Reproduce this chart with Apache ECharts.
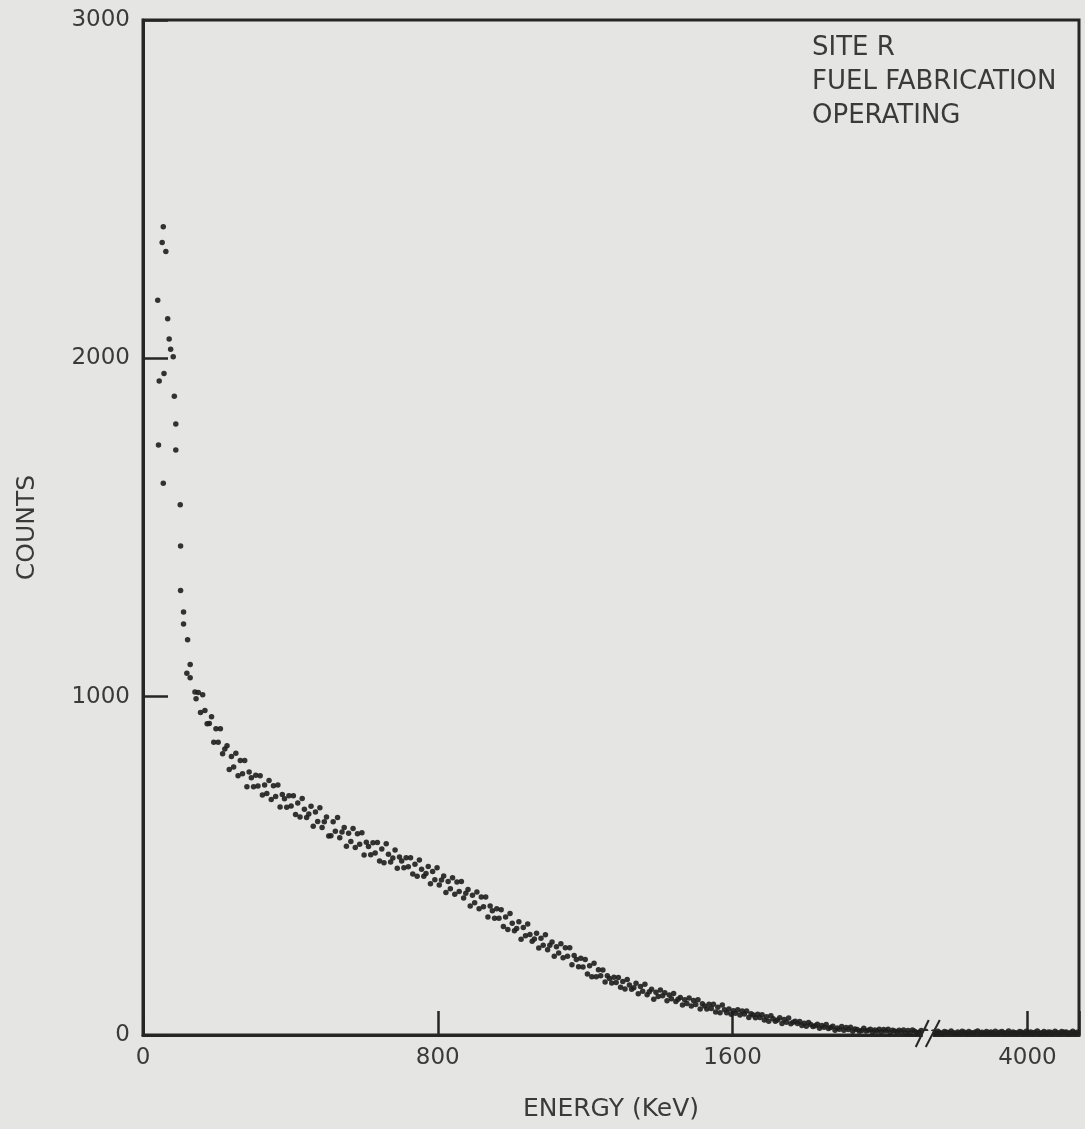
<!DOCTYPE html>
<html lang="en">
<head>
<meta charset="UTF-8">
<title>Site R - counts vs energy</title>
<script src="https://cdn.jsdelivr.net/npm/echarts@6.0.0/dist/echarts.min.js"></script>
<style>
    html, body { margin: 0; padding: 0; background: #e5e5e3; }
    #box { width: 1085px; height: 1129px; }
</style>
</head>
<body>
<div id="box"></div>
<script>
    // sparse points below ~150 keV, read one by one: [keV, counts]
    var lowEnergyPoints = [
        [55, 2389], [52, 2342], [62, 2316], [40, 2172], [67, 2117], [71, 2057],
        [75, 2027], [82, 2005], [57, 1955], [44, 1933], [85, 1888], [89, 1806],
        [42, 1744], [89, 1729], [55, 1631], [101, 1567], [102, 1445], [102, 1314],
        [110, 1250], [110, 1215], [121, 1168], [128, 1095], [119, 1069], [128, 1056],
        [141, 1014], [144, 994]
    ];

    // continuum, one value per channel (channel calibration below)
    var bandStartKeV = 150;
    var bandStepKeV = 6;
    var bandCounts = [
        1012, 953, 1006, 959, 920, 921, 941, 865, 905, 865,
        905, 831, 845, 855, 785, 823, 792, 833, 766, 811,
        772, 811, 734, 777, 760, 734, 768, 736, 766, 709,
        739, 714, 752, 696, 737, 705, 739, 674, 711, 698,
        673, 707, 677, 707, 652, 686, 644, 699, 667, 643,
        653, 676, 617, 659, 631, 672, 613, 630, 644, 588,
        589, 630, 602, 643, 583, 600, 613, 558, 596, 572,
        610, 554, 595, 564, 598, 532, 570, 557, 533, 568,
        538, 569, 514, 550, 509, 565, 534, 511, 523, 547,
        493, 526, 514, 494, 524, 497, 524, 476, 505, 469,
        517, 490, 469, 477, 498, 447, 483, 459, 494, 443,
        458, 470, 421, 454, 432, 465, 416, 452, 424, 454,
        405, 419, 430, 381, 413, 391, 423, 373, 408, 379,
        408, 349, 381, 367, 345, 373, 345, 370, 321, 349,
        312, 359, 330, 308, 315, 335, 283, 318, 293, 328,
        297, 277, 284, 301, 257, 286, 265, 296, 252, 265,
        275, 233, 261, 242, 270, 228, 258, 233, 258, 208,
        235, 223, 202, 227, 201, 223, 180, 205, 172, 212,
        172, 193, 175, 192, 157, 175, 167, 154, 171, 155,
        170, 141, 158, 136, 164, 148, 135, 140, 153, 122,
        143, 129, 150, 119, 128, 135, 106, 126, 114, 133,
        116, 125, 101, 118, 107, 123, 99, 106, 111, 89,
        104, 93, 109, 86, 102, 90, 104, 77, 92, 86,
        77, 91, 78, 91, 68, 82, 66, 89, 75, 66,
        77, 61, 72, 64, 75, 59, 71, 62, 71, 52,
        63, 59, 51, 61, 52, 60, 44, 54, 41, 57,
        48, 41, 44, 51, 34, 46, 38, 50, 33, 38,
        41, 34, 40, 28, 35, 26, 37, 31, 25, 27,
        32, 20, 28, 23, 31, 19, 22, 26, 14, 21,
        17, 25, 14, 22, 16, 23, 11, 18, 16, 11,
        13, 20, 12, 14, 17, 9, 15, 11, 17, 9,
        16, 12, 17, 7, 14, 12, 9, 14, 9, 15,
        7, 13, 6, 15, 11, 7, 8, 13, 4, 11
    ];

    // channels past the axis break
    var tailStartKeV = 3745;
    var tailStepKeV = 6;
    var tailCounts = [
        9, 6, 11, 7, 5, 10, 8, 6, 12, 7, 5, 9, 6, 11, 8, 5, 10, 7, 6, 9,
        12, 6, 8, 5, 10, 7, 9, 6, 11, 5, 8, 10, 6, 7, 12, 5, 9, 7, 6, 10,
        8, 5, 11, 7, 9, 6, 8, 12, 5, 7, 10, 6, 9, 8, 5, 11, 7, 6, 10, 8,
        9, 5, 7, 11, 6, 8, 9
    ];

    var xTickValues = [0, 800, 1600, 2400];
    var xTickLabels = ['0', '800', '1600', '4000'];
    var yTickValues = [0, 1000, 2000, 3000];
    var yTickLabels = ['0', '1000', '2000', '3000'];
    var noteLines = ['SITE R', 'FUEL FABRICATION', 'OPERATING'];

    // the axis is cut after ~2125 keV; 4000 keV is drawn at 2400
    var breakShift = 1600;
    var breakAt = 2135;
    function axisX(kev) {
        return kev > 3000 ? kev - breakShift : kev;
    }

    var points = [];
    lowEnergyPoints.forEach(function (p) { points.push([axisX(p[0]), p[1]]); });
    bandCounts.forEach(function (c, i) { points.push([axisX(bandStartKeV + i * bandStepKeV), c]); });
    tailCounts.forEach(function (c, i) { points.push([axisX(tailStartKeV + i * tailStepKeV), c]); });

    var ink = '#262626';
    var textInk = '#3a3a3a';
    var bg = '#e5e5e3';
    var font = 'DejaVu Sans';

    var myChart = echarts.init(document.getElementById('box'));
    var option = {
        backgroundColor: bg,
        animation: false,
        grid: {
            left: 143, right: 6, top: 20, bottom: 94,
            show: true, borderColor: ink, borderWidth: 3, backgroundColor: 'transparent'
        },
        xAxis: {
            type: 'value', min: 0, max: 2540, interval: 800,
            name: 'ENERGY (KeV)', nameLocation: 'middle', nameGap: 62,
            nameTextStyle: { fontFamily: font, fontSize: 25, color: textInk },
            axisLine: { show: true, lineStyle: { color: ink, width: 3 } },
            axisTick: { show: true, inside: true, length: 24, lineStyle: { color: ink, width: 2.5 } },
            axisLabel: {
                margin: 12, fontFamily: font, fontSize: 23, color: textInk,
                formatter: function (v) {
                    var i = xTickValues.indexOf(v);
                    return i < 0 ? '' : xTickLabels[i];
                }
            },
            splitLine: { show: false }
        },
        yAxis: {
            type: 'value', min: 0, max: 3000, interval: 1000,
            name: 'COUNTS', nameLocation: 'middle', nameGap: 103, nameRotate: 90,
            nameTextStyle: { fontFamily: font, fontSize: 25, color: textInk },
            axisLine: { show: true, lineStyle: { color: ink, width: 3 } },
            axisTick: { show: true, inside: true, length: 25, lineStyle: { color: ink, width: 2.5 } },
            axisLabel: {
                margin: 13, fontFamily: font, fontSize: 23, color: textInk,
                formatter: function (v) {
                    var i = yTickValues.indexOf(v);
                    return i < 0 ? '' : yTickLabels[i];
                }
            },
            splitLine: { show: false }
        },
        series: [{
            name: 'counts',
            type: 'scatter',
            symbol: 'circle',
            symbolSize: 5.5,
            itemStyle: { color: '#1e1e1e', opacity: 0.9 },
            data: points
        }]
    };
    myChart.setOption(option);

    // axis break mark "//" and the note, placed from the axis scale
    var b = myChart.convertToPixel({ xAxisIndex: 0, yAxisIndex: 0 }, [breakAt, 0]);
    var cx = b[0] - 1, cy = b[1] - 1;
    myChart.setOption({
        graphic: [
            { type: 'rect', z: 100, shape: { x: cx - 6, y: cy - 3, width: 10, height: 6 }, style: { fill: bg } },
            { type: 'line', z: 101, shape: { x1: cx - 13, y1: cy + 13, x2: cx, y2: cy - 14 }, style: { stroke: ink, lineWidth: 2 } },
            { type: 'line', z: 101, shape: { x1: cx - 3, y1: cy + 13, x2: cx + 11, y2: cy - 14 }, style: { stroke: ink, lineWidth: 2 } },
            {
                type: 'text', z: 100, left: 812, top: 31,
                style: {
                    text: noteLines.join('\n'), fill: textInk,
                    font: '26px "DejaVu Sans"', lineHeight: 34
                }
            }
        ]
    });
</script>
</body>
</html>
